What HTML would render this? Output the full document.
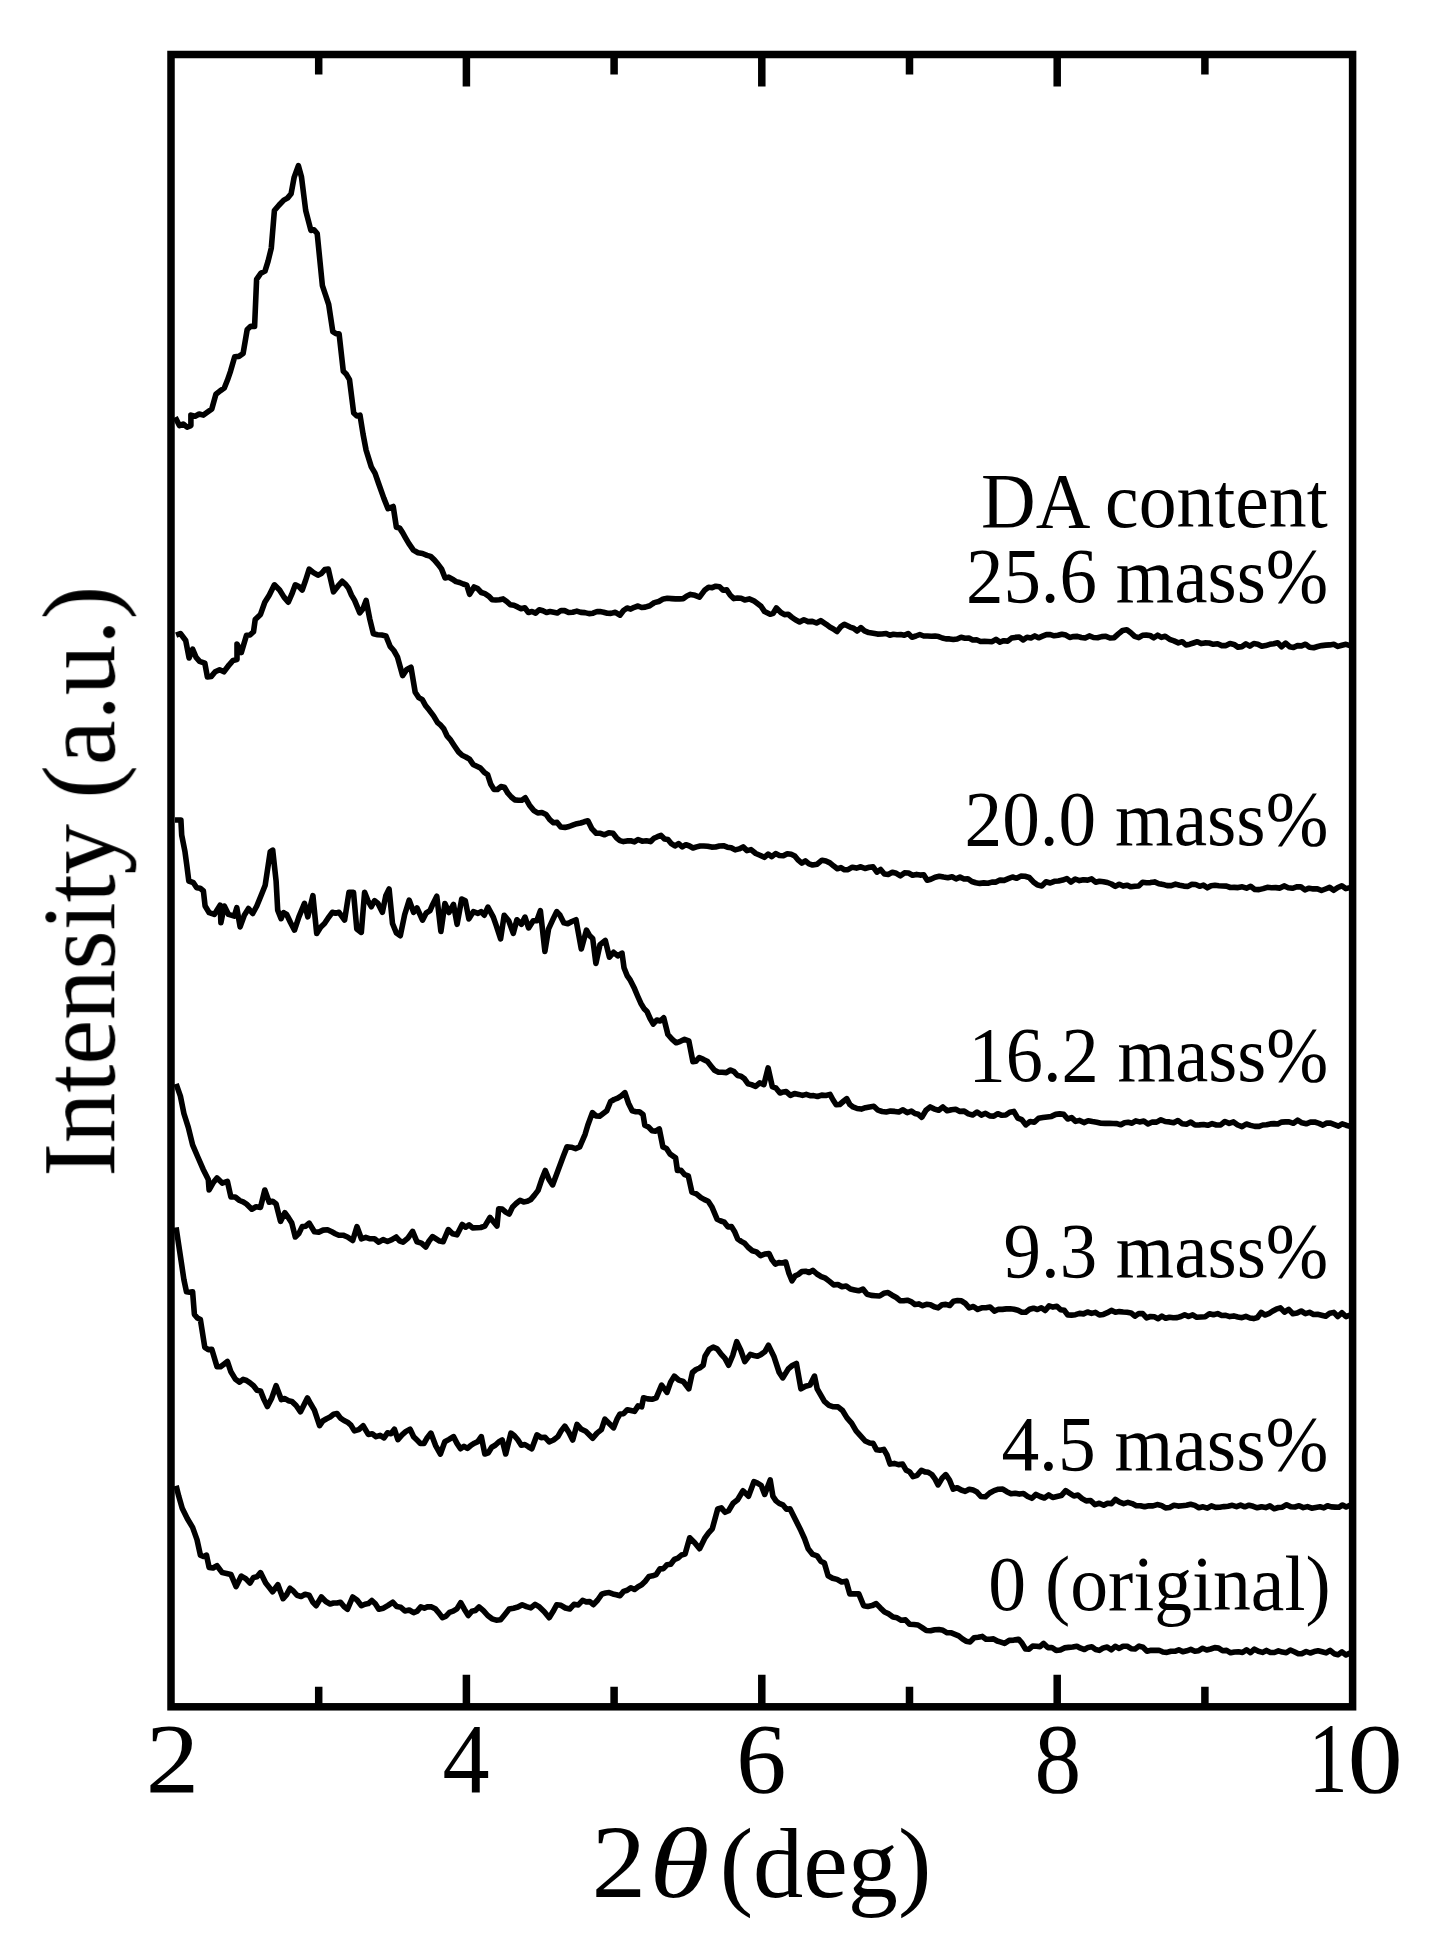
<!DOCTYPE html>
<html><head><meta charset="utf-8"><style>
html,body{margin:0;padding:0;background:#fff;}
svg{display:block;}
text{font-family:"Liberation Serif",serif;fill:#000;}
</style></head><body>
<svg width="1437" height="1952" viewBox="0 0 1437 1952">
<defs><filter id="soft" x="0" y="0" width="1437" height="1952" filterUnits="userSpaceOnUse"><feGaussianBlur stdDeviation="0.75"/></filter></defs>
<rect width="1437" height="1952" fill="#fff"/>
<g filter="url(#soft)">

<g fill="none" stroke="#000" stroke-width="5.6" stroke-linejoin="round">
<polyline points="175.2,417.2 179.4,425.6 183.2,424.0 187.1,427.1 190.9,425.6 190.9,415.1 195.1,416.3 199.2,414.0 203.4,415.1 207.6,412.0 211.8,408.9 215.9,394.3 220.1,390.9 224.3,388.0 227.4,380.3 230.5,371.3 234.7,356.7 238.9,356.4 243.1,353.5 247.2,329.5 250.9,326.2 254.6,326.4 256.6,279.4 260.8,273.2 265.0,271.1 268.1,261.1 271.3,248.1 274.4,210.5 279.1,205.0 283.8,200.1 287.5,198.1 291.1,193.8 294.2,177.1 298.4,165.7 301.5,177.1 305.7,210.5 310.9,230.4 314.0,229.8 317.2,233.5 322.4,285.7 325.5,294.9 328.7,304.5 332.8,331.6 336.0,333.6 339.1,333.7 343.3,371.3 346.4,374.3 349.5,379.6 353.7,413.0 356.9,416.0 360.0,415.1 363.1,434.4 366.1,450.1 371.3,466.8 375.0,473.1 378.6,483.5 383.8,498.1 388.0,508.6 393.2,506.5 396.4,527.3 399.5,527.9 402.6,532.6 405.8,538.3 408.9,543.6 413.4,550.1 418.0,552.7 422.5,553.5 427.0,555.4 430.6,556.4 434.3,559.9 437.9,564.1 441.5,568.9 445.1,578.0 448.7,577.1 452.4,579.2 456.0,581.6 459.6,582.5 463.2,584.0 466.8,585.2 469.6,594.3 474.1,587.0 477.7,588.6 481.3,592.5 484.9,593.7 488.6,596.1 492.2,599.7 495.8,600.0 499.4,599.7 503.1,598.9 506.7,601.5 510.3,604.8 513.9,605.3 517.5,606.9 521.1,608.7 524.8,607.8 528.4,612.5 532.0,611.5 535.6,613.1 539.2,609.8 542.9,610.8 546.5,612.5 550.1,611.5 553.7,612.2 557.4,613.0 561.0,610.5 564.6,610.6 568.6,612.5 572.7,612.2 576.8,611.1 580.8,612.4 584.9,612.6 589.0,613.6 593.0,613.2 597.1,611.5 600.0,611.6 603.6,612.2 607.3,613.2 610.9,613.4 615.4,612.3 619.9,615.2 623.5,610.5 627.1,608.0 630.7,609.1 634.3,607.3 638.0,606.0 641.6,607.5 645.2,607.1 649.8,605.7 654.3,602.6 658.8,601.5 663.3,598.9 667.4,598.3 671.5,598.6 675.5,598.9 679.6,598.9 683.2,598.6 686.9,596.0 690.5,594.4 695.0,595.3 699.5,597.1 704.9,589.9 708.6,587.2 712.2,587.7 715.8,586.2 719.5,586.8 723.1,590.3 726.7,589.9 730.3,595.3 733.9,598.6 737.5,598.0 741.1,598.3 744.7,599.9 749.2,598.9 753.8,600.8 757.4,603.5 761.0,606.2 764.6,611.6 770.1,614.3 773.2,613.3 776.4,608.0 780.9,612.5 784.5,614.6 788.2,614.3 791.8,617.2 795.4,619.8 799.6,622.0 803.9,619.8 808.1,621.6 812.3,621.4 816.5,623.0 820.7,620.7 826.2,624.3 829.8,627.0 833.4,628.9 837.0,631.5 840.6,626.9 844.3,624.3 850.0,627.1 853.6,628.2 857.2,631.0 860.9,627.7 864.5,630.8 868.8,632.6 873.2,633.3 877.5,634.1 881.9,634.0 886.2,633.5 889.8,635.2 893.4,634.3 897.1,634.8 900.7,634.6 904.3,635.3 908.2,633.5 912.0,637.2 915.9,636.0 919.8,634.5 923.7,636.0 927.5,636.0 931.4,636.2 935.0,636.1 938.6,636.6 942.3,638.0 945.9,638.9 949.5,638.9 953.4,639.5 957.2,639.0 961.1,637.2 965.0,638.2 968.9,638.1 972.7,640.0 976.6,639.8 980.5,641.5 984.4,641.4 988.3,641.5 992.1,641.7 996.0,639.4 999.9,642.1 1003.8,640.7 1007.7,641.1 1011.5,638.1 1015.4,637.4 1019.3,637.0 1023.2,639.9 1027.0,637.3 1030.9,638.0 1034.8,635.9 1038.6,637.8 1042.5,636.2 1046.4,634.6 1050.3,634.6 1054.1,635.8 1058.0,635.3 1061.9,634.2 1065.8,635.1 1069.7,637.4 1073.5,636.6 1077.4,636.4 1081.3,637.5 1085.2,638.0 1089.3,635.9 1093.5,637.5 1097.6,637.7 1101.7,636.6 1105.9,636.3 1110.0,638.0 1114.2,637.7 1118.4,633.9 1122.6,630.5 1126.8,629.7 1130.8,632.8 1134.7,636.4 1138.7,637.6 1142.5,635.3 1146.3,635.1 1150.1,635.5 1153.8,637.8 1157.6,635.2 1161.4,637.4 1165.2,636.3 1169.6,639.3 1174.0,640.9 1178.4,642.9 1182.2,641.7 1186.0,645.0 1189.8,644.2 1193.5,643.0 1197.3,641.7 1201.1,643.6 1204.9,642.9 1209.1,643.0 1213.3,644.3 1217.6,643.7 1221.8,645.6 1226.0,645.6 1230.0,643.5 1234.0,644.4 1237.9,647.1 1241.9,646.6 1245.9,643.9 1249.8,646.1 1253.8,643.5 1257.8,644.2 1261.8,646.3 1265.7,645.6 1269.7,644.3 1273.7,643.7 1277.7,642.7 1281.6,646.7 1285.6,643.1 1289.6,646.7 1293.5,647.5 1297.5,645.6 1301.5,645.9 1305.6,644.2 1309.6,647.2 1313.7,647.7 1317.7,646.5 1321.7,645.6 1325.8,645.1 1329.8,644.9 1333.8,644.3 1337.9,646.4 1341.9,645.3 1346.0,644.3 1350.0,645.6"/>
<polyline points="176.1,635.2 180.4,633.5 185.7,640.5 189.1,657.9 192.6,649.2 196.1,657.3 199.6,661.3 204.8,663.1 207.4,677.0 211.3,676.4 215.2,671.8 219.6,669.8 223.9,671.8 229.2,664.8 233.1,660.4 237.0,659.6 237.0,644.0 241.3,652.6 246.5,635.2 250.0,635.0 253.5,631.8 255.2,619.6 260.5,614.4 264.8,602.2 269.2,595.2 274.4,584.8 279.6,590.0 284.0,597.1 288.3,602.2 291.8,594.2 295.3,584.8 298.8,586.6 302.2,590.0 305.7,580.0 309.2,569.1 313.5,572.6 317.9,575.2 321.4,573.5 324.8,569.6 328.3,569.1 333.5,591.8 337.9,586.2 342.2,581.3 345.3,584.1 348.4,587.9 351.5,595.1 354.6,600.4 359.8,612.9 363.0,608.8 366.1,600.4 369.8,619.1 373.4,633.8 377.6,634.7 381.7,635.0 385.9,635.9 390.1,646.3 393.8,650.5 397.4,656.8 402.6,675.6 406.8,669.4 411.0,667.2 415.2,692.3 418.8,697.6 422.3,699.7 425.7,705.8 429.2,710.1 433.4,715.6 437.6,722.6 440.7,725.2 443.8,728.9 447.0,735.8 450.1,739.3 454.3,745.7 458.5,751.9 462.1,755.3 465.8,757.0 469.5,759.2 473.1,764.4 476.8,766.2 480.4,768.0 484.1,772.2 487.7,774.8 490.8,784.3 493.9,789.4 497.4,789.5 500.9,786.6 504.4,787.3 507.9,793.2 511.3,797.0 514.8,799.9 518.3,800.2 521.8,800.3 525.3,797.8 529.5,805.2 533.6,810.3 537.8,813.0 541.9,812.5 546.1,814.5 549.8,819.7 553.5,822.8 557.1,822.4 560.8,827.0 565.0,827.4 569.1,826.5 573.3,824.9 576.9,823.7 580.6,823.0 584.2,821.8 587.9,820.8 592.0,828.9 596.2,833.3 600.4,833.3 604.6,834.8 608.8,832.7 613.0,833.3 616.5,837.8 619.9,840.6 623.4,841.6 627.0,840.9 630.7,840.8 634.4,841.9 638.0,839.5 642.2,841.2 646.3,840.8 650.5,841.6 654.0,838.3 657.5,836.7 661.0,835.4 664.5,839.0 667.9,839.5 671.4,843.7 675.0,846.0 678.6,843.6 682.3,846.9 685.9,844.7 689.5,846.0 693.0,848.0 696.6,846.9 700.2,846.0 703.7,846.0 707.6,846.3 711.6,847.1 715.5,847.0 719.4,846.0 723.4,845.7 727.3,847.2 731.2,847.7 735.2,849.9 739.1,848.9 743.1,846.9 747.0,850.6 751.0,849.6 755.8,853.5 760.5,855.5 764.3,857.3 768.1,854.1 771.8,856.6 775.6,853.6 779.4,855.5 783.3,855.8 787.3,853.7 791.2,854.3 794.8,856.0 798.3,860.2 801.8,863.1 805.4,860.9 809.0,863.9 812.5,865.0 817.2,864.2 822.0,860.2 825.9,861.0 829.9,862.9 833.8,866.1 837.3,868.7 840.9,867.6 844.5,869.8 848.0,869.7 852.3,867.2 856.5,868.1 860.8,866.8 865.0,868.5 869.3,867.3 873.1,866.9 876.9,872.1 880.6,869.5 884.4,874.0 888.2,874.4 892.3,872.3 896.3,873.3 900.4,875.8 904.4,872.9 908.5,873.0 912.5,875.2 916.6,874.4 920.1,875.1 923.7,874.8 927.2,880.2 930.8,879.2 935.1,877.2 939.3,876.2 943.6,877.1 947.8,877.8 952.1,876.8 956.0,878.9 960.0,877.1 964.0,879.0 967.9,878.7 971.8,881.5 975.8,882.7 979.8,883.4 983.9,882.9 987.9,883.2 991.9,882.1 996.0,882.1 1000.0,880.1 1004.2,880.4 1008.3,878.7 1012.5,877.0 1016.7,878.3 1020.8,876.1 1025.0,876.3 1029.2,877.5 1033.4,881.9 1037.6,885.1 1041.8,885.9 1046.0,881.8 1050.2,883.0 1054.3,881.3 1058.5,881.0 1062.7,880.1 1066.9,878.5 1071.0,882.1 1075.2,879.0 1079.4,880.6 1083.5,879.7 1087.7,880.1 1091.6,878.9 1095.6,882.2 1099.5,881.2 1103.5,881.7 1107.4,882.5 1111.4,884.0 1115.3,886.4 1119.2,884.2 1123.1,886.1 1127.0,885.2 1130.9,886.8 1134.8,886.2 1138.7,886.0 1142.6,882.3 1146.5,882.8 1150.4,882.6 1154.6,881.9 1158.8,883.8 1162.9,884.4 1167.1,885.6 1171.3,885.6 1175.5,884.1 1179.6,885.2 1183.8,886.1 1188.0,886.4 1191.9,884.3 1195.7,884.5 1199.6,886.3 1203.4,885.1 1207.3,887.8 1211.1,885.8 1215.0,885.3 1218.8,885.7 1222.7,886.0 1226.5,886.1 1230.4,887.5 1234.2,887.4 1238.1,887.6 1242.3,886.8 1246.5,888.2 1250.6,886.3 1254.8,889.4 1259.0,889.6 1263.2,888.6 1267.3,887.3 1271.5,887.7 1275.7,887.6 1279.9,888.1 1284.1,885.9 1288.2,887.7 1292.4,888.3 1296.6,886.9 1300.8,886.7 1304.9,889.9 1309.1,888.2 1313.3,888.9 1317.4,888.8 1321.5,890.5 1325.5,889.0 1329.6,887.4 1333.7,890.3 1337.8,887.5 1341.8,885.8 1345.9,888.6 1350.0,887.6"/>
<polyline points="175.0,820.0 180.9,820.0 181.7,835.1 185.0,851.8 186.7,864.3 188.8,881.0 193.4,882.7 196.7,887.7 200.1,888.2 203.4,891.0 205.1,906.0 209.2,912.7 214.3,914.4 220.1,905.2 220.9,922.7 224.3,906.0 228.5,914.4 234.3,916.1 236.8,907.7 240.1,926.9 244.3,915.2 248.5,908.5 252.7,913.5 256.8,906.0 261.9,893.5 265.2,885.2 270.2,851.8 272.7,850.1 276.1,881.0 277.7,910.2 281.1,918.6 283.6,912.7 286.7,914.5 290.6,922.7 294.5,930.1 298.9,916.8 304.5,903.4 307.8,916.8 312.9,895.6 316.7,933.5 320.6,927.2 324.5,923.5 329.0,916.8 332.3,912.3 335.6,913.3 339.0,912.3 344.6,920.1 349.0,892.3 353.5,892.3 356.8,929.0 361.3,932.4 364.6,892.3 368.0,900.8 371.3,906.7 374.6,900.7 378.0,903.4 382.4,912.3 385.8,895.7 389.1,888.9 392.5,923.5 396.4,933.0 400.3,935.7 404.7,914.5 409.2,900.1 413.6,912.3 417.0,907.9 422.5,920.1 426.2,913.0 430.0,910.7 432.7,904.4 436.8,896.2 440.9,931.5 444.9,903.5 449.0,912.5 453.5,904.4 457.1,924.3 461.7,899.0 465.3,900.8 468.9,918.9 473.4,911.6 478.0,913.4 481.1,911.6 484.3,915.2 487.9,907.1 493.3,917.1 496.1,925.2 500.6,938.8 504.2,915.2 508.7,920.7 513.3,933.3 516.9,919.8 521.4,924.3 525.0,917.1 528.6,927.9 533.2,920.7 536.8,920.7 540.4,910.7 544.9,951.4 548.6,928.8 552.7,919.9 556.7,911.6 560.0,915.2 563.9,922.9 567.7,923.8 571.9,921.5 576.0,919.7 581.3,948.9 586.5,930.1 589.6,935.7 592.7,938.5 595.9,963.5 600.0,944.7 605.3,940.5 609.4,957.2 613.6,952.3 617.8,955.8 622.0,953.1 624.0,967.7 627.1,975.6 630.3,980.2 634.5,988.6 637.6,996.0 640.8,1003.2 643.9,1008.4 647.0,1011.5 650.1,1018.5 653.3,1024.0 656.8,1020.0 660.2,1021.0 663.7,1017.8 667.9,1034.5 672.0,1039.1 676.2,1042.8 680.4,1041.3 684.6,1039.4 688.8,1040.8 692.9,1061.6 696.0,1061.2 699.2,1057.5 703.4,1059.4 707.6,1061.6 711.1,1066.1 714.5,1070.3 718.0,1072.1 722.2,1072.3 726.3,1072.6 730.5,1070.0 734.0,1071.6 737.5,1075.5 741.0,1076.2 744.5,1078.8 747.9,1083.7 751.4,1084.6 755.6,1086.3 759.7,1082.8 763.9,1084.6 768.1,1067.9 772.3,1086.7 776.1,1088.2 780.0,1093.0 782.0,1092.3 786.2,1091.6 790.4,1095.4 794.5,1093.6 798.7,1094.4 802.5,1095.4 806.2,1094.4 810.0,1095.7 813.7,1095.6 817.5,1096.5 821.7,1095.1 825.8,1095.5 830.0,1094.4 833.1,1100.0 836.2,1104.8 839.7,1104.5 843.2,1101.5 846.7,1098.6 849.9,1104.6 853.0,1106.9 857.1,1108.5 861.3,1109.1 865.5,1107.7 869.6,1106.9 873.8,1106.3 878.0,1110.2 882.1,1111.5 886.3,1112.0 890.5,1111.1 894.7,1111.4 898.9,1112.0 903.0,1109.8 907.2,1112.6 911.4,1111.1 914.9,1113.5 918.3,1114.3 921.8,1117.3 926.0,1110.2 930.2,1106.9 934.4,1109.1 938.7,1110.3 942.9,1107.0 947.2,1110.8 951.4,1109.7 955.7,1109.2 959.9,1111.4 964.2,1111.1 968.4,1113.9 972.7,1115.0 977.0,1112.0 981.3,1115.1 985.5,1113.3 989.8,1115.9 993.8,1116.1 997.8,1113.7 1001.8,1115.3 1005.8,1115.0 1009.8,1112.2 1013.8,1111.4 1017.8,1118.1 1021.8,1119.6 1025.8,1124.9 1030.1,1121.5 1034.3,1122.3 1038.6,1118.3 1042.9,1117.6 1047.2,1117.0 1051.4,1116.4 1055.7,1114.4 1059.7,1113.9 1063.7,1114.4 1067.7,1119.0 1071.6,1117.6 1075.6,1121.4 1079.6,1120.4 1083.9,1122.6 1088.1,1120.7 1092.4,1121.5 1096.7,1122.2 1101.0,1123.2 1105.2,1123.4 1109.5,1123.4 1113.2,1123.5 1117.0,1123.6 1120.8,1124.8 1124.5,1122.7 1128.2,1122.2 1132.0,1123.2 1135.8,1120.9 1139.5,1121.9 1143.8,1121.0 1148.0,1124.0 1152.3,1122.0 1156.6,1122.1 1160.9,1119.8 1165.1,1121.5 1169.4,1121.9 1173.7,1122.7 1177.9,1120.6 1182.2,1123.7 1186.5,1124.2 1190.8,1122.1 1195.0,1125.0 1199.3,1124.9 1203.6,1124.5 1207.8,1125.3 1212.1,1123.6 1216.4,1125.0 1220.7,1124.9 1224.9,1121.5 1229.2,1123.4 1233.5,1121.9 1237.7,1125.0 1242.0,1126.7 1246.3,1124.0 1250.6,1125.4 1254.8,1126.4 1259.1,1126.4 1262.8,1125.0 1266.6,1124.7 1270.3,1123.9 1274.1,1123.6 1277.8,1124.0 1281.6,1122.1 1285.3,1121.9 1289.1,1121.9 1293.4,1123.3 1297.6,1120.2 1301.9,1122.8 1306.2,1123.8 1310.5,1122.1 1314.7,1122.0 1319.0,1123.4 1322.9,1125.1 1326.8,1123.0 1330.6,1123.1 1334.5,1124.6 1338.4,1126.1 1342.2,1123.9 1346.1,1125.2 1350.0,1126.4"/>
<polyline points="176.1,1083.9 180.4,1096.1 183.9,1113.5 188.3,1127.4 192.6,1144.8 197.8,1157.0 203.1,1169.2 208.3,1179.6 209.1,1190.0 213.1,1182.8 217.0,1177.9 222.2,1183.1 227.4,1181.3 230.9,1197.0 235.2,1197.0 239.6,1200.5 243.1,1201.8 246.5,1204.0 251.8,1209.2 256.1,1206.8 260.5,1207.4 264.8,1190.0 269.2,1202.2 272.6,1201.2 276.1,1204.0 280.5,1221.4 284.8,1212.7 288.3,1217.5 291.8,1223.1 295.3,1237.0 298.8,1233.6 302.2,1226.6 305.7,1226.2 309.2,1223.1 314.4,1231.8 318.8,1232.1 323.1,1230.1 327.5,1229.7 331.8,1231.8 335.3,1233.7 338.8,1235.3 343.1,1235.2 347.5,1237.0 352.7,1240.5 357.0,1226.6 361.4,1238.8 365.8,1237.4 370.1,1238.8 374.5,1238.8 378.8,1242.2 383.1,1239.6 387.5,1241.5 391.9,1239.7 396.2,1237.0 399.6,1240.9 403.1,1242.2 407.9,1238.1 412.6,1231.4 417.0,1241.8 421.4,1243.1 425.7,1247.0 429.1,1241.0 432.6,1236.6 436.1,1238.9 439.6,1241.1 443.1,1241.8 448.3,1229.6 452.6,1233.8 457.0,1234.8 462.2,1224.4 465.7,1227.2 469.1,1224.9 472.6,1227.9 476.7,1227.8 480.7,1227.5 484.8,1226.1 490.0,1217.4 493.5,1221.8 497.0,1226.1 498.7,1208.7 502.2,1209.0 505.7,1212.1 509.2,1214.0 512.6,1206.9 516.1,1203.5 520.0,1200.3 523.6,1201.9 527.3,1201.3 530.9,1199.4 534.5,1195.1 538.1,1190.4 541.7,1179.6 545.3,1170.5 549.0,1179.5 552.6,1184.9 558.0,1170.5 563.4,1156.0 567.0,1146.9 571.2,1147.2 575.5,1148.6 579.7,1146.9 585.1,1134.3 587.8,1125.2 592.4,1112.6 596.0,1115.9 599.6,1116.2 603.2,1113.5 606.8,1110.8 610.5,1101.7 614.1,1099.5 617.7,1098.1 621.3,1095.8 624.9,1092.7 628.6,1103.5 632.2,1110.8 635.8,1111.7 639.4,1111.7 643.0,1114.4 644.8,1125.2 648.5,1127.1 652.1,1130.7 655.7,1131.2 659.3,1128.9 662.9,1146.9 666.5,1148.5 670.2,1154.2 675.6,1157.8 677.4,1170.5 681.0,1170.3 684.7,1174.7 688.3,1175.9 691.9,1192.2 696.4,1193.9 700.9,1197.6 704.5,1199.6 708.2,1201.2 711.8,1206.7 717.2,1219.3 720.8,1221.0 724.3,1222.2 727.9,1226.9 731.4,1226.5 734.5,1231.4 737.7,1239.0 741.2,1241.4 744.6,1243.2 748.1,1247.3 752.3,1250.7 756.4,1251.9 760.6,1255.7 764.8,1254.0 769.0,1253.6 772.1,1259.9 775.3,1264.1 778.8,1262.6 782.2,1263.0 785.7,1262.0 788.9,1273.2 792.0,1280.8 795.1,1275.9 798.2,1274.5 801.9,1271.5 805.5,1271.2 809.1,1272.5 812.8,1270.3 817.0,1274.0 821.2,1276.6 825.4,1278.2 829.5,1281.4 833.7,1284.9 837.9,1284.5 842.0,1286.8 846.2,1286.0 850.4,1289.1 854.6,1290.0 858.7,1290.8 862.9,1289.1 867.1,1294.3 871.3,1295.4 875.5,1295.7 879.6,1296.0 883.8,1293.3 888.0,1292.6 892.1,1295.2 896.3,1297.5 900.0,1300.6 903.6,1300.8 907.3,1300.2 911.0,1301.6 914.9,1304.5 918.7,1303.9 922.6,1305.7 926.5,1304.3 930.4,1304.7 934.2,1306.8 938.1,1307.9 942.0,1304.8 945.9,1304.4 949.7,1305.5 953.6,1301.2 957.5,1300.5 961.4,1300.8 965.3,1303.4 969.2,1307.8 973.4,1306.5 977.6,1309.4 981.8,1307.8 985.9,1307.7 990.1,1307.0 994.3,1311.1 998.5,1309.2 1002.4,1309.4 1006.3,1308.9 1010.1,1308.8 1014.0,1309.2 1017.9,1310.2 1021.8,1312.2 1025.7,1312.3 1029.6,1309.3 1033.5,1308.2 1037.4,1309.5 1041.3,1307.8 1045.2,1310.5 1049.1,1305.9 1053.0,1307.1 1056.9,1306.3 1060.6,1309.7 1064.2,1310.3 1067.8,1315.0 1071.5,1315.1 1075.5,1314.7 1079.5,1313.4 1083.5,1313.9 1087.5,1312.0 1091.5,1313.4 1095.4,1312.4 1099.4,1315.0 1103.4,1314.4 1107.4,1312.7 1111.4,1310.4 1115.4,1312.2 1119.3,1311.6 1123.2,1312.0 1127.1,1312.3 1131.0,1312.9 1134.9,1316.2 1138.8,1313.5 1142.7,1313.6 1146.6,1317.9 1150.5,1316.5 1154.3,1316.8 1158.1,1318.7 1161.9,1316.1 1165.7,1318.3 1169.5,1317.2 1173.3,1317.8 1177.1,1317.6 1180.9,1316.5 1184.7,1314.7 1188.5,1316.5 1192.7,1314.8 1196.8,1317.3 1201.0,1317.0 1205.2,1316.7 1209.4,1313.7 1213.5,1314.7 1217.7,1313.6 1221.7,1315.5 1225.8,1315.3 1229.8,1316.6 1233.8,1315.9 1237.8,1317.0 1241.9,1317.7 1245.9,1316.4 1249.9,1318.0 1253.7,1318.6 1257.4,1317.5 1261.2,1312.4 1264.9,1315.0 1268.7,1313.7 1272.4,1311.2 1276.2,1309.2 1280.4,1307.8 1284.5,1312.2 1288.7,1309.4 1292.9,1313.8 1297.1,1313.1 1301.2,1311.0 1305.4,1313.6 1309.5,1312.3 1313.5,1314.5 1317.6,1314.3 1321.6,1315.2 1325.7,1316.2 1329.7,1313.2 1333.8,1312.4 1337.8,1316.5 1341.9,1312.7 1345.9,1316.6 1350.0,1315.1"/>
<polyline points="176.1,1227.4 178.7,1244.8 181.3,1262.2 183.9,1279.6 186.5,1291.8 189.6,1292.3 192.6,1291.8 194.4,1314.4 197.4,1318.1 200.4,1319.6 204.8,1347.4 208.3,1349.6 211.8,1349.2 217.0,1366.6 220.5,1366.8 223.9,1364.2 227.4,1361.4 230.9,1371.8 235.2,1378.9 239.6,1382.2 243.1,1379.3 246.5,1380.5 250.0,1382.9 253.5,1385.7 257.0,1390.3 260.5,1390.9 263.9,1399.4 267.4,1406.6 271.8,1397.9 276.1,1385.7 281.3,1399.6 284.8,1398.5 288.3,1400.7 291.8,1401.4 296.1,1405.5 300.5,1411.8 303.9,1405.0 307.4,1397.9 310.9,1404.3 314.4,1410.1 319.6,1425.7 323.1,1420.7 326.6,1418.7 330.1,1417.0 333.6,1414.3 337.0,1413.5 340.5,1418.2 344.0,1420.5 347.5,1422.2 350.9,1425.1 354.4,1430.9 358.8,1429.6 363.1,1425.7 368.3,1434.4 372.2,1433.7 376.1,1436.7 380.1,1435.4 384.0,1437.9 387.5,1432.8 390.9,1433.7 394.4,1429.2 397.9,1439.6 402.0,1434.9 406.0,1431.4 410.1,1429.2 413.6,1436.7 417.0,1440.0 420.4,1443.4 423.9,1443.5 427.4,1437.4 430.9,1433.1 435.6,1445.6 440.4,1454.0 444.8,1441.8 449.1,1439.4 453.5,1436.6 457.0,1443.4 460.5,1448.7 464.0,1446.3 467.4,1448.4 470.9,1445.3 474.4,1443.2 477.8,1441.6 481.3,1436.6 484.8,1454.0 488.3,1452.8 491.7,1447.3 495.2,1445.3 498.7,1442.0 502.2,1440.0 505.7,1454.0 510.9,1433.1 514.4,1435.7 517.8,1439.7 521.3,1445.3 524.8,1444.5 528.3,1446.7 531.8,1448.7 537.0,1434.8 541.1,1437.6 545.1,1437.3 549.2,1441.8 553.5,1440.0 557.9,1436.6 561.3,1430.6 564.8,1426.1 568.8,1432.2 572.7,1440.0 577.0,1424.4 581.4,1429.3 585.7,1431.3 589.2,1434.7 592.7,1438.3 597.0,1433.1 601.4,1429.6 604.9,1419.2 609.2,1423.5 613.5,1427.9 617.0,1419.2 620.0,1414.0 623.6,1413.7 627.3,1409.7 630.9,1410.5 634.5,1411.4 638.1,1405.9 641.7,1406.8 643.5,1397.8 647.7,1398.9 652.0,1399.3 656.2,1397.8 661.6,1385.1 667.0,1392.4 670.6,1382.1 674.3,1376.1 678.8,1380.1 683.3,1381.5 688.8,1388.8 692.4,1372.5 696.0,1369.5 699.6,1368.0 703.2,1365.2 705.0,1356.2 709.1,1349.5 713.2,1347.1 717.2,1348.8 721.3,1354.4 725.0,1358.4 728.6,1365.2 732.7,1355.5 736.7,1341.7 740.8,1350.3 744.8,1361.6 750.3,1354.4 753.9,1355.5 757.5,1356.3 761.1,1354.4 764.8,1351.8 768.4,1345.3 773.8,1356.2 779.2,1372.5 782.8,1377.9 788.3,1368.9 792.3,1365.5 796.4,1363.4 800.9,1388.8 805.5,1386.3 810.0,1385.1 814.5,1376.1 817.2,1388.8 820.8,1395.2 824.4,1401.4 829.0,1405.3 833.5,1406.8 838.0,1406.9 842.5,1410.5 847.0,1417.9 851.6,1423.1 856.1,1430.8 860.6,1435.8 865.2,1441.0 869.7,1443.0 873.1,1443.4 876.6,1449.8 880.0,1450.3 883.8,1449.4 887.0,1455.0 890.1,1464.1 894.3,1463.4 898.4,1464.6 902.6,1464.1 906.1,1470.1 909.5,1471.7 913.0,1476.6 917.2,1475.3 921.4,1470.3 924.9,1471.9 928.3,1472.3 931.8,1474.5 935.0,1478.9 938.1,1484.9 942.0,1478.3 945.8,1474.6 949.5,1480.0 953.2,1489.2 957.2,1487.7 961.2,1490.0 965.2,1491.4 969.2,1489.2 973.1,1490.1 977.0,1492.1 980.9,1496.5 985.3,1496.8 989.7,1493.0 994.1,1490.6 998.5,1489.2 1002.7,1489.1 1006.8,1491.7 1011.0,1493.8 1015.2,1493.2 1019.4,1494.1 1023.5,1493.5 1027.7,1496.5 1031.9,1498.3 1036.0,1494.4 1040.2,1496.5 1044.4,1498.0 1048.6,1494.9 1052.7,1497.5 1056.9,1496.5 1061.3,1495.6 1065.7,1490.7 1069.8,1493.3 1073.9,1496.0 1078.0,1495.1 1082.1,1498.6 1086.2,1500.9 1090.6,1500.5 1095.0,1504.6 1099.3,1503.3 1103.7,1505.3 1107.6,1503.2 1111.5,1503.6 1115.4,1499.5 1119.6,1502.1 1123.7,1503.7 1127.9,1502.4 1132.1,1503.6 1136.3,1505.7 1140.4,1505.7 1144.6,1506.8 1148.8,1505.7 1153.0,1505.9 1157.2,1504.6 1161.3,1505.4 1165.5,1507.9 1169.7,1507.5 1173.9,1505.3 1178.1,1506.1 1182.2,1505.7 1186.4,1505.2 1190.6,1504.3 1194.8,1505.4 1198.9,1507.8 1203.1,1506.8 1207.3,1508.2 1211.4,1505.8 1215.6,1507.4 1219.8,1507.2 1224.0,1506.6 1228.1,1506.2 1232.3,1505.3 1236.5,1506.7 1240.6,1505.1 1244.8,1506.8 1249.0,1505.2 1253.2,1506.3 1257.3,1507.8 1261.5,1506.8 1265.7,1507.6 1269.9,1505.9 1274.1,1508.8 1278.2,1507.5 1282.4,1507.2 1286.6,1504.7 1290.8,1506.8 1295.0,1507.0 1299.1,1505.7 1303.3,1507.6 1307.5,1506.6 1311.7,1508.2 1315.8,1507.4 1320.0,1506.8 1323.8,1507.9 1327.5,1505.8 1331.2,1506.9 1335.0,1507.1 1338.8,1507.3 1342.5,1505.0 1346.2,1507.0 1350.0,1505.3"/>
<polyline points="176.1,1485.7 178.7,1496.1 182.2,1508.3 187.4,1518.7 192.6,1527.4 197.0,1539.6 200.4,1555.2 203.4,1556.5 206.5,1555.2 209.1,1567.4 213.1,1568.0 217.0,1565.7 222.2,1572.6 226.6,1573.4 230.9,1574.4 236.1,1586.6 241.3,1576.1 245.7,1578.6 250.0,1583.1 253.5,1577.4 257.0,1576.8 260.5,1572.6 265.7,1583.1 269.1,1587.3 272.6,1591.8 277.9,1584.8 283.1,1598.7 286.6,1594.6 290.0,1588.3 293.5,1591.2 297.0,1595.3 301.1,1596.5 305.1,1594.3 309.2,1595.3 312.6,1601.8 316.1,1605.7 321.4,1597.0 325.8,1601.5 330.1,1604.0 333.6,1603.0 337.0,1603.0 340.5,1602.2 344.0,1606.5 347.5,1609.2 352.7,1597.0 357.0,1600.0 361.4,1605.7 364.9,1604.2 368.3,1603.6 371.8,1600.5 375.3,1603.8 378.8,1609.2 383.4,1608.2 388.1,1605.4 392.7,1602.2 396.8,1606.6 400.8,1607.3 404.9,1610.9 409.2,1610.0 413.6,1612.7 417.2,1611.1 420.8,1606.9 424.4,1608.2 428.0,1606.7 431.6,1606.9 435.2,1608.7 438.8,1612.8 442.4,1617.7 446.0,1616.1 449.5,1612.4 453.1,1611.2 456.9,1608.9 460.7,1602.6 464.5,1609.4 468.3,1615.5 471.9,1611.3 475.4,1610.5 479.0,1606.9 483.4,1610.6 487.7,1615.5 492.0,1618.8 496.3,1620.2 500.6,1619.8 504.9,1614.5 509.2,1609.0 513.5,1608.2 517.9,1607.0 522.2,1604.7 526.5,1606.6 530.8,1607.9 535.1,1604.3 539.4,1606.9 544.3,1611.7 549.2,1617.7 553.0,1611.6 556.7,1604.7 561.0,1605.3 565.4,1608.0 569.7,1609.0 574.0,1604.3 578.3,1604.9 582.6,1600.4 586.2,1601.9 589.8,1601.6 593.4,1604.7 597.7,1600.0 602.0,1593.9 605.6,1593.1 609.2,1592.6 612.8,1593.9 616.4,1594.7 620.0,1595.7 623.6,1591.4 627.2,1590.3 630.8,1587.8 634.5,1589.5 638.1,1586.7 641.7,1584.8 645.3,1581.2 649.0,1576.4 652.6,1575.8 656.2,1574.6 659.8,1568.9 663.4,1568.6 667.0,1564.8 670.7,1564.3 674.3,1559.5 677.9,1558.2 681.5,1555.0 685.1,1554.1 689.7,1537.8 694.7,1542.7 699.6,1548.7 705.0,1537.8 708.6,1532.8 712.3,1528.8 717.7,1508.9 721.3,1507.9 725.0,1512.3 728.6,1510.7 733.1,1503.3 737.6,1499.8 743.0,1490.8 748.5,1496.2 753.9,1481.7 757.5,1483.2 761.1,1485.3 764.7,1494.4 770.2,1479.9 772.9,1496.2 776.0,1500.9 779.2,1503.4 782.8,1504.8 786.5,1509.2 790.1,1508.9 795.5,1519.7 800.9,1530.6 804.5,1538.5 808.2,1548.7 812.7,1554.4 817.2,1555.9 820.8,1561.2 824.4,1563.1 828.1,1575.8 832.6,1578.3 837.1,1579.4 841.7,1582.0 846.2,1581.2 849.8,1593.9 854.3,1593.7 858.8,1593.9 863.7,1605.7 867.9,1606.5 872.0,1605.6 876.2,1603.6 880.4,1607.9 884.6,1612.0 888.8,1613.9 893.0,1617.1 897.1,1617.8 901.3,1620.3 905.5,1619.9 909.6,1624.2 913.8,1624.5 918.0,1625.0 922.1,1627.6 926.3,1630.5 930.5,1630.8 934.7,1629.8 938.9,1629.5 943.0,1630.3 947.2,1632.8 951.4,1632.8 955.0,1634.3 958.7,1635.9 962.4,1638.9 966.0,1641.2 970.1,1641.9 974.1,1637.7 978.2,1637.2 982.3,1636.4 986.0,1639.2 989.7,1639.2 993.5,1638.9 997.2,1641.0 1000.9,1642.1 1004.6,1643.4 1009.2,1640.4 1013.9,1640.1 1018.5,1639.2 1022.0,1643.2 1025.5,1649.0 1029.1,1649.2 1032.7,1646.0 1036.4,1646.3 1040.0,1646.6 1043.6,1643.4 1047.8,1647.6 1051.9,1647.5 1056.1,1650.4 1060.3,1650.0 1064.4,1647.9 1068.6,1647.4 1072.7,1647.0 1076.9,1646.2 1080.6,1648.2 1084.4,1649.5 1088.1,1647.4 1091.8,1646.8 1095.6,1649.5 1099.3,1650.4 1103.3,1647.9 1107.2,1647.1 1111.2,1649.8 1115.2,1646.3 1119.2,1648.4 1123.1,1646.2 1127.1,1646.2 1131.1,1648.7 1135.1,1649.0 1139.1,1646.1 1143.0,1647.2 1147.0,1651.2 1151.0,1650.3 1155.0,1650.4 1159.0,1650.3 1162.9,1652.0 1166.9,1652.4 1170.9,1651.2 1174.9,1651.3 1178.8,1649.8 1182.8,1651.8 1186.8,1650.8 1190.8,1649.4 1194.8,1651.2 1198.7,1650.7 1202.7,1648.2 1206.7,1650.0 1210.7,1649.0 1214.7,1647.6 1218.6,1648.1 1222.6,1650.8 1226.6,1650.4 1230.6,1652.8 1234.5,1652.0 1238.5,1651.8 1242.5,1652.5 1246.5,1649.8 1250.5,1652.7 1254.4,1649.2 1258.4,1651.3 1262.4,1652.4 1266.4,1650.4 1270.4,1652.4 1274.4,1652.5 1278.4,1650.8 1282.3,1652.1 1286.3,1652.7 1290.3,1650.0 1294.3,1651.8 1298.3,1653.8 1302.2,1653.6 1306.2,1651.5 1310.2,1653.0 1314.2,1651.6 1318.1,1650.8 1322.1,1651.8 1326.1,1652.9 1330.1,1650.3 1334.1,1653.7 1338.0,1654.7 1342.0,1651.9 1346.0,1654.9 1350.0,1653.2"/>
</g>
<rect x="171" y="54.5" width="1181.6" height="1652.3" fill="none" stroke="#000" stroke-width="7.5"/>
<path d="M318.7,54.5v20M318.7,1706.8v-20M466.4,54.5v32M466.4,1706.8v-32M614.1,54.5v20M614.1,1706.8v-20M761.8,54.5v32M761.8,1706.8v-32M909.5,54.5v20M909.5,1706.8v-20M1057.2,54.5v32M1057.2,1706.8v-32M1204.9,54.5v20M1204.9,1706.8v-20" stroke="#000" stroke-width="7.5" fill="none"/>
<text x="145.8" y="1792.3" font-size="100" textLength="53.4" lengthAdjust="spacingAndGlyphs">2</text>
<text x="442.4" y="1792.3" font-size="100" textLength="47.1" lengthAdjust="spacingAndGlyphs">4</text>
<text x="736.3" y="1792.3" font-size="100" textLength="50.1" lengthAdjust="spacingAndGlyphs">6</text>
<text x="1034.4" y="1792.3" font-size="100" textLength="46.7" lengthAdjust="spacingAndGlyphs">8</text>
<text x="1308.7" y="1792.3" font-size="100" textLength="38.8" lengthAdjust="spacingAndGlyphs">1</text>
<text x="1347.4" y="1792.3" font-size="100" textLength="55.3" lengthAdjust="spacingAndGlyphs">0</text>
<text x="591.5" y="1896.5" font-size="104" textLength="54.7" lengthAdjust="spacingAndGlyphs">2</text>
<text x="649.2" y="1896.5" font-size="100" textLength="60.3" lengthAdjust="spacingAndGlyphs" font-style="italic">θ</text>
<text x="719.7" y="1896.5" font-size="100" textLength="211.8" lengthAdjust="spacingAndGlyphs">(deg)</text>
<g transform="translate(114.3,1173.2) rotate(-90)"><text x="-3.6" y="0.0" font-size="104" textLength="590.8" lengthAdjust="spacingAndGlyphs">Intensity (a.u.)</text></g>
<text x="981.1" y="526.6" font-size="78" textLength="346.6" lengthAdjust="spacingAndGlyphs">DA content</text>
<text x="965.9" y="601.8" font-size="78" textLength="362.4" lengthAdjust="spacingAndGlyphs">25.6 mass%</text>
<text x="964.5" y="844.9" font-size="78" textLength="363.9" lengthAdjust="spacingAndGlyphs">20.0 mass%</text>
<text x="968.5" y="1081.0" font-size="78" textLength="359.8" lengthAdjust="spacingAndGlyphs">16.2 mass%</text>
<text x="1003.4" y="1277.0" font-size="78" textLength="324.9" lengthAdjust="spacingAndGlyphs">9.3 mass%</text>
<text x="1001.4" y="1470.0" font-size="78" textLength="327.0" lengthAdjust="spacingAndGlyphs">4.5 mass%</text>
<text x="988.3" y="1610.2" font-size="78" textLength="342.3" lengthAdjust="spacingAndGlyphs">0 (original)</text>
</g></svg></body></html>
